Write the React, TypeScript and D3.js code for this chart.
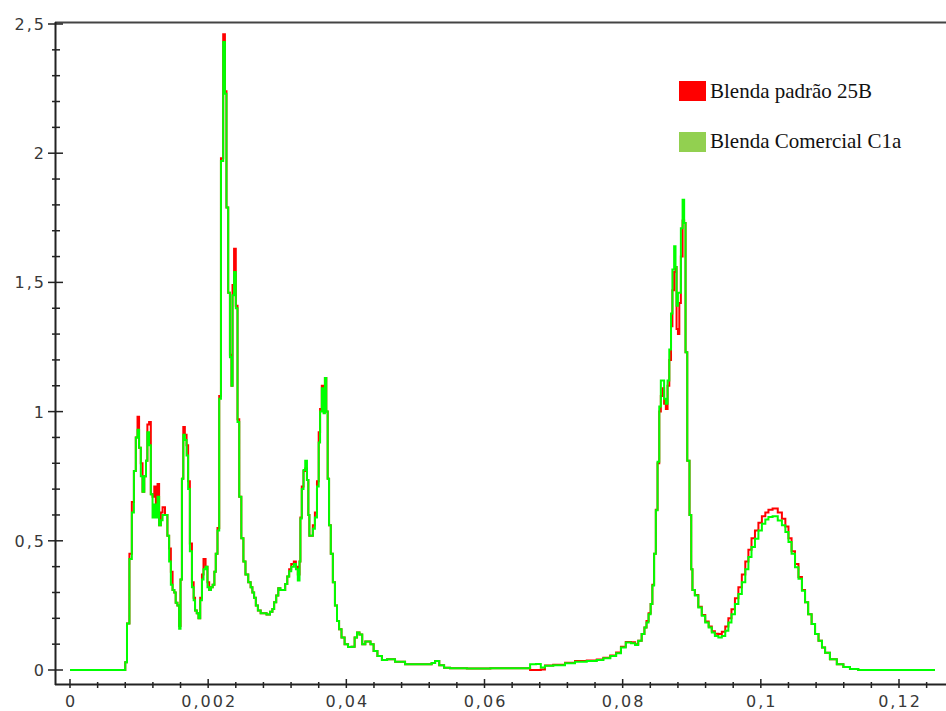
import React, { useEffect, useRef } from "react";
import * as d3 from "d3";

// x positions of the samples (shared by both curves)
const xValues = [
  0, 0.0079, 0.0081, 0.0084, 0.0088, 0.0091, 0.0094, 0.00965, 0.0099, 0.0101,
  0.0104, 0.0106, 0.0109, 0.0111, 0.0113, 0.0116, 0.0118, 0.0121, 0.0123, 0.01255,
  0.0128, 0.013, 0.0133, 0.0135, 0.014, 0.0142, 0.0145, 0.0147, 0.015, 0.0152,
  0.0154, 0.0157, 0.0159, 0.0161, 0.0163, 0.0165, 0.01675, 0.017, 0.0172, 0.0175,
  0.0178, 0.018, 0.0182, 0.0185, 0.0187, 0.019, 0.0192, 0.01945, 0.0198, 0.02,
  0.0203, 0.0205, 0.0208, 0.021, 0.0212, 0.0215, 0.0217, 0.022, 0.02235, 0.0225,
  0.0228, 0.023, 0.0233, 0.02345, 0.0236, 0.0239, 0.0241, 0.0244, 0.0246, 0.025,
  0.0252, 0.0256, 0.026, 0.0263, 0.0265, 0.0268, 0.027, 0.0274, 0.0278, 0.0282,
  0.0287, 0.0292, 0.0294, 0.0297, 0.03, 0.0303, 0.0306, 0.031, 0.0313, 0.0316,
  0.03185, 0.0322, 0.0326, 0.0328, 0.03315, 0.0333, 0.0334, 0.0337, 0.0339, 0.0342,
  0.0344, 0.0346, 0.0347, 0.035, 0.0353, 0.0356, 0.0359, 0.0361, 0.0363, 0.0366,
  0.0368, 0.037, 0.0372, 0.0374, 0.0376, 0.0379, 0.0382, 0.0385, 0.0388, 0.0391,
  0.0395, 0.04, 0.0405, 0.041, 0.0414, 0.0417, 0.0421, 0.0425, 0.043, 0.0433,
  0.0437, 0.0442, 0.0448, 0.0455, 0.0463, 0.0478, 0.0492, 0.0521, 0.0526, 0.0531,
  0.0538, 0.0545, 0.0555, 0.0594, 0.0623, 0.0661, 0.0671, 0.0678, 0.0685, 0.069,
  0.0709, 0.0724, 0.0738, 0.0758, 0.0767, 0.0777, 0.0787, 0.0794, 0.0801, 0.0808,
  0.0816, 0.082, 0.0825, 0.083, 0.0833, 0.0836, 0.0839, 0.0842, 0.0844, 0.0847,
  0.0849, 0.0852, 0.0854, 0.08565, 0.0859, 0.0861, 0.0864, 0.0866, 0.0869, 0.0871,
  0.0873, 0.0876, 0.0877, 0.0879, 0.0881, 0.0883, 0.08855, 0.0888, 0.089, 0.0892,
  0.0895, 0.08985, 0.09, 0.0902, 0.0907, 0.0912, 0.0917, 0.0922, 0.0927, 0.0931,
  0.0936, 0.0941, 0.0946, 0.0951, 0.0955, 0.096, 0.0965, 0.097, 0.0975, 0.098,
  0.0984, 0.0989, 0.0994, 0.0999, 0.1004, 0.1009, 0.1013, 0.1021, 0.1028, 0.1033,
  0.1038, 0.1042, 0.1047, 0.1052, 0.1057, 0.1062, 0.1066, 0.1071, 0.1076, 0.1081,
  0.1086, 0.1091, 0.1095, 0.1105, 0.1115, 0.1124, 0.1134, 0.1148, 0.1252,
];

const padrao25B = [
  0, 0, 0.03, 0.18, 0.45, 0.65, 0.77, 0.9, 0.98, 0.86,
  0.8, 0.69, 0.75, 0.81, 0.95, 0.96, 0.68, 0.67, 0.71, 0.6,
  0.72, 0.56, 0.61, 0.63, 0.6, 0.52, 0.47, 0.38, 0.31, 0.3,
  0.26, 0.25, 0.17, 0.35, 0.74, 0.94, 0.91, 0.87, 0.73, 0.49,
  0.34, 0.28, 0.23, 0.22, 0.2, 0.28, 0.37, 0.43, 0.4, 0.34,
  0.31, 0.32, 0.33, 0.38, 0.45, 0.55, 1.06, 1.98, 2.46, 2.24,
  1.79, 1.46, 1.22, 1.1, 1.49, 1.63, 1.41, 0.97, 0.67, 0.51,
  0.42, 0.37, 0.34, 0.32, 0.3, 0.28, 0.25, 0.23, 0.22, 0.22,
  0.215, 0.225, 0.236, 0.262, 0.288, 0.316, 0.31, 0.31, 0.333, 0.362,
  0.39, 0.41, 0.42, 0.4, 0.37, 0.42, 0.59, 0.71, 0.77, 0.78,
  0.735, 0.6, 0.52, 0.52, 0.56, 0.61, 0.73, 0.92, 1.01, 1.1,
  1.05, 1.13, 1.0, 0.74, 0.56, 0.45, 0.34, 0.25, 0.19, 0.158,
  0.126, 0.1, 0.089, 0.09, 0.126, 0.145, 0.137, 0.1, 0.11, 0.11,
  0.1, 0.074, 0.054, 0.039, 0.042, 0.032, 0.022, 0.022, 0.027, 0.035,
  0.018, 0.009, 0.007, 0.006, 0.007, 0.007, 0.0, 0.0, 0.002, 0.017,
  0.02, 0.028, 0.035, 0.037, 0.041, 0.047, 0.056, 0.068, 0.09, 0.108,
  0.107, 0.1, 0.113, 0.139, 0.164, 0.19, 0.22, 0.255, 0.33, 0.45,
  0.62, 0.8, 1.0, 1.06, 1.09, 1.03, 1.01, 1.1, 1.2, 1.33,
  1.47, 1.54, 1.56, 1.32, 1.3, 1.42, 1.6, 1.74, 1.73, 1.23,
  0.81, 0.6, 0.39, 0.31, 0.29, 0.245, 0.213, 0.188, 0.168, 0.15,
  0.14, 0.139, 0.148, 0.168, 0.2, 0.235, 0.278, 0.32, 0.37, 0.42,
  0.465, 0.51, 0.54, 0.57, 0.595, 0.61, 0.62, 0.625, 0.61, 0.585,
  0.555, 0.51, 0.46, 0.41, 0.36, 0.31, 0.262, 0.216, 0.178, 0.139,
  0.113, 0.087, 0.067, 0.042, 0.022, 0.012, 0.004, 0, 0,
];

const comercialC1a = [
  0, 0, 0.03, 0.18, 0.43, 0.61, 0.77, 0.9, 0.93, 0.86,
  0.75, 0.69, 0.75, 0.81, 0.92, 0.87, 0.68, 0.59, 0.64, 0.59,
  0.67, 0.56, 0.58, 0.6, 0.6, 0.52, 0.42, 0.33, 0.31, 0.3,
  0.26, 0.25, 0.16, 0.35, 0.74, 0.91, 0.89, 0.83, 0.7, 0.46,
  0.32, 0.27, 0.23, 0.22, 0.2, 0.27, 0.35, 0.39, 0.4, 0.32,
  0.31, 0.32, 0.33, 0.38, 0.45, 0.54, 1.05, 1.97, 2.43, 2.23,
  1.79, 1.46, 1.21, 1.1, 1.45, 1.54, 1.4, 0.96, 0.67, 0.51,
  0.42, 0.37, 0.34, 0.32, 0.3, 0.28, 0.25, 0.23, 0.22, 0.22,
  0.215, 0.225, 0.236, 0.262, 0.288, 0.316, 0.31, 0.31, 0.333, 0.362,
  0.382, 0.4, 0.41, 0.39, 0.346, 0.42, 0.586, 0.7, 0.774, 0.81,
  0.735, 0.6, 0.52, 0.52, 0.547, 0.59, 0.71, 0.88, 1.0, 1.09,
  0.994, 1.13, 1.0, 0.74, 0.56, 0.45, 0.34, 0.25, 0.19, 0.158,
  0.126, 0.1, 0.089, 0.09, 0.126, 0.145, 0.137, 0.1, 0.11, 0.11,
  0.1, 0.074, 0.054, 0.039, 0.042, 0.032, 0.022, 0.022, 0.027, 0.035,
  0.018, 0.009, 0.007, 0.006, 0.007, 0.007, 0.022, 0.023, 0.01, 0.016,
  0.018, 0.026, 0.032, 0.035, 0.039, 0.045, 0.054, 0.065, 0.087, 0.106,
  0.104, 0.097, 0.113, 0.139, 0.164, 0.184, 0.216, 0.255, 0.327, 0.45,
  0.618, 0.806, 1.02, 1.12, 1.12, 1.05, 1.03, 1.12, 1.24, 1.38,
  1.55, 1.64, 1.56, 1.41, 1.46, 1.46, 1.71, 1.82, 1.73, 1.23,
  0.81, 0.6, 0.39, 0.31, 0.288, 0.242, 0.21, 0.184, 0.164, 0.145,
  0.132, 0.126, 0.132, 0.152, 0.184, 0.216, 0.255, 0.294, 0.34, 0.39,
  0.437, 0.476, 0.508, 0.54, 0.566, 0.582, 0.592, 0.595, 0.579, 0.56,
  0.534, 0.495, 0.45, 0.398, 0.353, 0.307, 0.262, 0.216, 0.178, 0.139,
  0.113, 0.087, 0.067, 0.042, 0.022, 0.012, 0.004, 0, 0,
];

const seriesNames = ["Blenda padrão 25B", "Blenda Comercial C1a"];
const lineColors = ["#ff0000", "#00ff00"];
const swatchColors = ["#ff0000", "#92d050"];

const xTickValues = [0, 0.02, 0.04, 0.06, 0.08, 0.1, 0.12];
const xTickLabels = ["0", "0,002", "0,04", "0,06", "0,08", "0,1", "0,12"];
const yTickValues = [0, 0.5, 1, 1.5, 2, 2.5];
const yTickLabels = ["0", "0,5", "1", "1,5", "2", "2,5"];

function App() {
  const ref = useRef(null);

  const width = 946;
  const height = 711;

  useEffect(() => {
    const svg = d3.select(ref.current);
    svg.selectAll("*").remove();

    const xScale = d3.scaleLinear().domain([0, 0.12]).range([70, 899]);
    const yScale = d3.scaleLinear().domain([0, 2.5]).range([670, 24]);

    const axisColor = "#222";
    const labelFont = "'DejaVu Sans', Verdana, sans-serif";

    // frame line on top and the two axes
    svg.append("line")
      .attr("x1", 55).attr("x2", width).attr("y1", 22.5).attr("y2", 22.5)
      .attr("stroke", "#444").attr("stroke-width", 2);
    svg.append("line")
      .attr("x1", 55.5).attr("x2", 55.5).attr("y1", 22).attr("y2", 685)
      .attr("stroke", axisColor).attr("stroke-width", 2);
    svg.append("line")
      .attr("x1", 55).attr("x2", width).attr("y1", 684.5).attr("y2", 684.5)
      .attr("stroke", axisColor).attr("stroke-width", 2);

    // y ticks
    var yMinor = d3.range(0, 26).filter((i) => i % 5 !== 0).map((i) => i / 10);
    svg.selectAll(".yMinor").data(yMinor).enter().append("line")
      .attr("class", "yMinor")
      .attr("x1", 52).attr("x2", 60)
      .attr("y1", (d) => yScale(d)).attr("y2", (d) => yScale(d))
      .attr("stroke", axisColor).attr("stroke-width", 1.5);
    svg.selectAll(".yMajor").data(yTickValues).enter().append("line")
      .attr("class", "yMajor")
      .attr("x1", 48).attr("x2", 63)
      .attr("y1", (d) => yScale(d)).attr("y2", (d) => yScale(d))
      .attr("stroke", axisColor).attr("stroke-width", 1.5);
    svg.selectAll(".yLabel").data(yTickValues).enter().append("text")
      .attr("class", "yLabel")
      .attr("x", 46)
      .attr("y", (d) => yScale(d) + 6)
      .attr("text-anchor", "end")
      .attr("fill", "#383838")
      .style("font-family", labelFont)
      .style("font-size", "16px")
      .style("letter-spacing", "2px")
      .text((d, i) => yTickLabels[i]);

    // x ticks
    var xMinor = d3.range(0, 32).filter((i) => i % 5 !== 0).map((i) => i * 0.004);
    svg.selectAll(".xMinor").data(xMinor).enter().append("line")
      .attr("class", "xMinor")
      .attr("x1", (d) => xScale(d)).attr("x2", (d) => xScale(d))
      .attr("y1", 682).attr("y2", 688)
      .attr("stroke", axisColor).attr("stroke-width", 1.5);
    svg.selectAll(".xMajor").data(xTickValues).enter().append("line")
      .attr("class", "xMajor")
      .attr("x1", (d) => xScale(d)).attr("x2", (d) => xScale(d))
      .attr("y1", 679).attr("y2", 688)
      .attr("stroke", axisColor).attr("stroke-width", 1.5);
    svg.selectAll(".xLabel").data(xTickValues).enter().append("text")
      .attr("class", "xLabel")
      .attr("x", (d) => xScale(d) + 1)
      .attr("y", 707)
      .attr("text-anchor", "middle")
      .attr("fill", "#383838")
      .style("font-family", labelFont)
      .style("font-size", "16px")
      .style("letter-spacing", "2px")
      .text((d, i) => xTickLabels[i]);

    // curves: red first, green on top; the instrument output is stepped
    const line = d3.line()
      .curve(d3.curveStep)
      .x((d) => xScale(d[0]))
      .y((d) => yScale(d[1]));
    [padrao25B, comercialC1a].forEach((values, k) => {
      svg.append("path")
        .datum(xValues.map((xv, i) => [xv, values[i]]))
        .attr("fill", "none")
        .attr("stroke", lineColors[k])
        .attr("stroke-width", 2)
        .attr("d", line);
    });

    // legend
    seriesNames.forEach((name, k) => {
      svg.append("rect")
        .attr("x", 679).attr("y", 81 + k * 51)
        .attr("width", 27).attr("height", 20)
        .attr("fill", swatchColors[k]);
      svg.append("text")
        .attr("x", 710).attr("y", 98 + k * 49.5)
        .attr("fill", "#111")
        .style("font-family", "'Liberation Serif', 'Times New Roman', serif")
        .style("font-size", "21px")
        .text(name);
    });
  }, []);

  return (
    <div style={{ position: "absolute", left: 0, top: 0 }}>
      <svg ref={ref} width={width} height={height} style={{ display: "block", background: "#fff" }}></svg>
    </div>
  );
}

export default App;
